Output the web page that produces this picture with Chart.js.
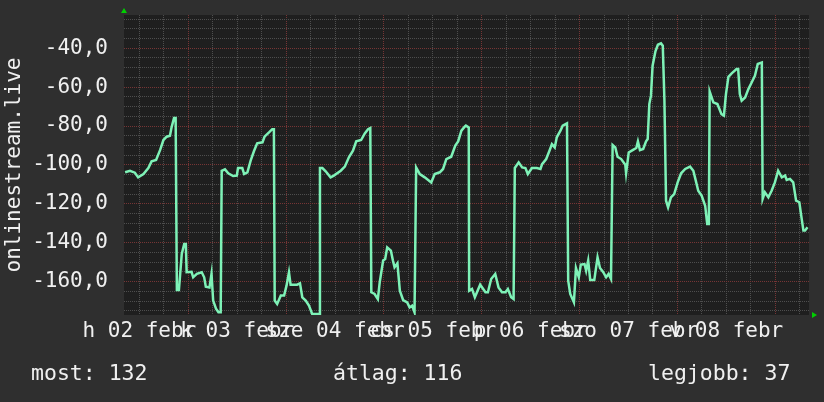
<!DOCTYPE html>
<html>
<head>
<meta charset="utf-8">
<script src="https://cdn.jsdelivr.net/npm/chart.js@4.4.1/dist/chart.umd.min.js"></script>
<style>
  html, body { margin: 0; padding: 0; background: #2f2f2f; }
  #wrap { width: 824px; height: 402px; }
</style>
</head>
<body>
<div id="wrap"><canvas id="signalChart" width="824" height="402"></canvas></div>
<script>
// hours counted from 02 febr 00:00, one group per day / night
const hours = [
  8.5, 9.7, 10.9, 11.7, 13.0, 14.2, 15.0, 16.1, 17.1, 17.9, 18.7, 19.5, 19.9, 20.5, 20.9,
  21.2, 21.7, 22.4, 23.0, 23.4, 23.6, 24.8, 25.2, 26.1, 27.3, 27.9, 28.3, 29.2, 29.7, 30.1, 30.8, 31.4, 31.95,
  32.2, 33.0, 33.8, 35.0, 35.9, 36.2, 37.25, 37.7, 38.5, 39.3, 40.1, 40.9, 42.2, 42.7, 43.8, 44.6, 45.0,
  45.2, 45.8, 46.7, 47.5, 48.1, 48.7, 49.1, 50.7, 51.4, 51.97, 52.8, 53.6, 54.4, 56.1,
  56.3, 56.9, 57.7, 58.9, 59.7, 61.4, 62.4, 63.4, 64.4, 65.2, 66.4, 67.3, 68.1, 68.65,
  68.9, 69.7, 70.5, 70.96, 71.8, 72.3, 72.8, 73.7, 74.2, 74.6, 75.3, 75.9, 76.7, 77.7, 78.3, 78.9, 79.5,
  79.9, 80.8, 82.0, 83.6, 84.45, 85.7, 86.5, 87.3, 88.5, 89.5, 90.2, 91.0, 91.8, 92.1, 92.8,
  92.9, 93.6, 94.3, 95.6, 96.9, 97.5, 98.3, 99.3, 100.1, 100.96, 101.8, 102.4, 103.2, 103.8,
  104.1, 105.05, 105.9, 106.7, 107.3, 108.3, 109.5, 110.4, 110.8, 111.8, 112.6, 113.2, 113.9, 114.4, 115.3, 115.85, 116.9,
  117.2, 117.7, 118.6, 119.1, 119.8, 120.3, 121.2, 121.6, 122.1, 122.6, 123.6, 124.4, 125.0, 125.8, 126.5, 127.1, 127.7,
  128.1, 128.75, 129.3, 130.2, 131.2, 131.4, 132.05, 133.0, 133.9, 134.3, 134.8, 135.6, 136.3, 136.7, 137.1, 137.5, 137.9, 138.6, 139.2, 139.96, 140.4, 140.8,
  141.2, 141.7, 142.4, 143.2, 144.05, 144.9, 145.9, 147.1, 147.9, 148.3, 149.1, 149.95, 150.8, 151.3, 151.7,
  151.9, 152.8, 153.8, 154.8, 155.4, 155.9, 156.5, 157.3, 158.5, 158.9, 159.3, 159.75, 160.6, 161.4, 162.2, 163.0, 163.7, 164.7,
  164.9, 165.45, 166.3, 167.1, 167.9, 168.7, 169.6, 170.4, 170.8, 171.6, 172.4, 173.1, 173.9, 174.3, 174.9, 175.3, 175.9
];
const signal = [
  -103.8, -103, -104, -106.4, -104.7, -101.6, -98.2, -97.5, -92.3, -87.2, -85.5, -85, -80.7, -75.9, -75.9,
  -164.3, -164.3, -145.8, -140.7, -140.7, -155.2, -155, -157.8, -156, -155.2, -157.8, -162.6, -163, -156, -169.8, -174, -175.8, -175.8,
  -103, -102.3, -104.3, -105.7, -105.5, -101.6, -101.6, -104.7, -103.8, -97.8, -93, -88.9, -88.4, -85.5, -83.3, -81.6, -81.6,
  -169.8, -171.5, -167.2, -167.2, -162.1, -155.2, -161.6, -161.6, -160.9, -168.1, -169.8, -172.4, -176.7, -176.7,
  -101.6, -101.6, -103.3, -106.4, -105.5, -103, -100.9, -96.1, -92.7, -87.9, -87.2, -83.8, -81.6, -81,
  -165.5, -166.4, -169, -160.4, -149.2, -148.4, -142.4, -144.1, -149.2, -152.7, -150.6, -164.7, -169.5, -170.7, -173.3, -172.4, -175.8,
  -101.3, -104.7, -106.4, -109, -104.7, -103.8, -102.1, -97, -95.8, -90.1, -87.9, -82.4, -80.3, -79.8, -80.7,
  -164.7, -163.8, -168.1, -161.6, -165.5, -165.5, -158.7, -156.1, -163, -165.5, -165.5, -163.8, -168.1, -169,
  -101.6, -98.7, -101.3, -101.6, -104.7, -101.6, -101.6, -102.1, -99.6, -97, -92.7, -89.3, -91, -85.8, -82.4, -79.8, -78.6,
  -159.5, -166.4, -170.7, -153, -157.8, -151.3, -151, -154.4, -149.2, -159.2, -159.2, -147.5, -153, -155.2, -157.8, -156.1, -158.7,
  -89.8, -91, -95.8, -97, -99.9, -104.3, -93.6, -92.4, -91.3, -87.9, -92.4, -91.8, -87.9, -86.7, -68.7, -64.4, -49, -41.6, -38.2, -37.5, -38.7, -66.6,
  -118.4, -121.8, -116.7, -115, -109, -104.3, -102.1, -100.9, -103, -106.4, -113.3, -115.9, -121, -130.4, -130.4,
  -62.2, -67.8, -68.7, -73.9, -74.7, -63.6, -54.7, -52.9, -50.7, -50.7, -63.6, -67, -65.3, -61, -57.6, -54.2, -48.1, -47.3,
  -117.5, -114.1, -116.7, -113.3, -109, -103, -106.4, -105.5, -107.7, -107.2, -109, -118.4, -119.2, -125.2, -133.8, -133.8, -132.1
];
const dayLabels = ['h 02 febr', 'k 03 febr', 'sze 04 febr', 'cs 05 febr', 'p 06 febr', 'szo 07 febr', 'v 08 febr'];
const statNames = ['most', 'átlag', 'legjobb'];
const statValues = [132, 116, 37];

const FONT = '"DejaVu Sans Mono", monospace';
const TEXT = '#f0f0f0';
const GRID_MINOR = '#4e4e4e';
const GRID_MAJOR = '#763535';

Chart.defaults.font.family = FONT;
Chart.defaults.color = TEXT;

// background, arrows and the stats line under the graph
const rrdLook = {
  id: 'rrdLook',
  beforeDraw(chart) {
    const { ctx, chartArea: a } = chart;
    ctx.save();
    ctx.fillStyle = '#2f2f2f';
    ctx.fillRect(0, 0, chart.width, chart.height);
    ctx.fillStyle = '#1f1f1f';
    ctx.fillRect(a.left, a.top, a.right - a.left, a.bottom - a.top);
    ctx.restore();
  },
  afterDraw(chart) {
    const { ctx, chartArea: a } = chart;
    ctx.save();
    ctx.fillStyle = '#00d000';
    ctx.beginPath();
    ctx.moveTo(a.left - 3, a.top - 2);
    ctx.lineTo(a.left + 3, a.top - 2);
    ctx.lineTo(a.left, a.top - 7);
    ctx.fill();
    ctx.beginPath();
    ctx.moveTo(a.right + 3, a.bottom - 3);
    ctx.lineTo(a.right + 3, a.bottom + 3);
    ctx.lineTo(a.right + 8, a.bottom);
    ctx.fill();

    ctx.font = '21.5px ' + FONT;
    ctx.fillStyle = TEXT;
    ctx.textBaseline = 'middle';
    const xs = [31, 333, 648];
    statNames.forEach((n, i) => ctx.fillText(n + ': ' + statValues[i], xs[i], 374));
    ctx.restore();
  }
};

new Chart(document.getElementById('signalChart'), {
  type: 'line',
  data: {
    datasets: [{
      data: hours.map((h, i) => ({ x: h, y: signal[i] })),
      borderColor: '#7ef2b7',
      borderWidth: 2.5,
      pointRadius: 0,
      tension: 0,
      fill: false
    }]
  },
  options: {
    responsive: false,
    animation: false,
    layout: { padding: { left: 0, right: 15, top: 15, bottom: 0 } },
    plugins: { legend: { display: false }, tooltip: { enabled: false } },
    scales: {
      x: {
        type: 'linear',
        min: 8.23,
        max: 176.27,
        afterBuildTicks(scale) {
          const t = [];
          for (let h = 12; h <= scale.max; h += 6) t.push({ value: h });
          scale.ticks = t;
        },
        afterFit(scale) {
          scale.height = 87;
          scale.paddingLeft = 0;
          scale.paddingRight = 0;
        },
        ticks: {
          autoSkip: false,
          maxRotation: 0,
          minRotation: 0,
          padding: 4,
          font: { size: 21 },
          callback: (v) => (v % 24 === 12 ? dayLabels[(v - 12) / 24] : '')
        },
        grid: {
          drawTicks: false,
          lineWidth: 1,
          color: (c) => (c.tick && c.tick.value % 24 === 0 ? GRID_MAJOR : GRID_MINOR)
        },
        border: { display: false, dash: [1, 1] }
      },
      y: {
        min: -177.2,
        max: -22.9,
        afterBuildTicks(scale) {
          const t = [];
          for (let v = -175; v <= -25; v += 5) t.push({ value: v });
          scale.ticks = t;
        },
        afterFit(scale) {
          scale.width = 124;
          scale.paddingTop = 0;
          scale.paddingBottom = 0;
        },
        ticks: {
          autoSkip: false,
          padding: 16,
          font: { size: 21 },
          callback: (v) => (v % 20 === 0 ? v.toFixed(1).replace('.', ',') : '')
        },
        grid: {
          drawTicks: false,
          lineWidth: 1,
          color: (c) => (c.tick && c.tick.value % 20 === 0 ? GRID_MAJOR : GRID_MINOR)
        },
        border: { display: false, dash: [1, 1] },
        title: {
          display: true,
          text: 'onlinestream.live',
          font: { size: 21 },
          padding: { top: 2, bottom: 0 }
        }
      }
    }
  },
  plugins: [rrdLook]
});
</script>
</body>
</html>
